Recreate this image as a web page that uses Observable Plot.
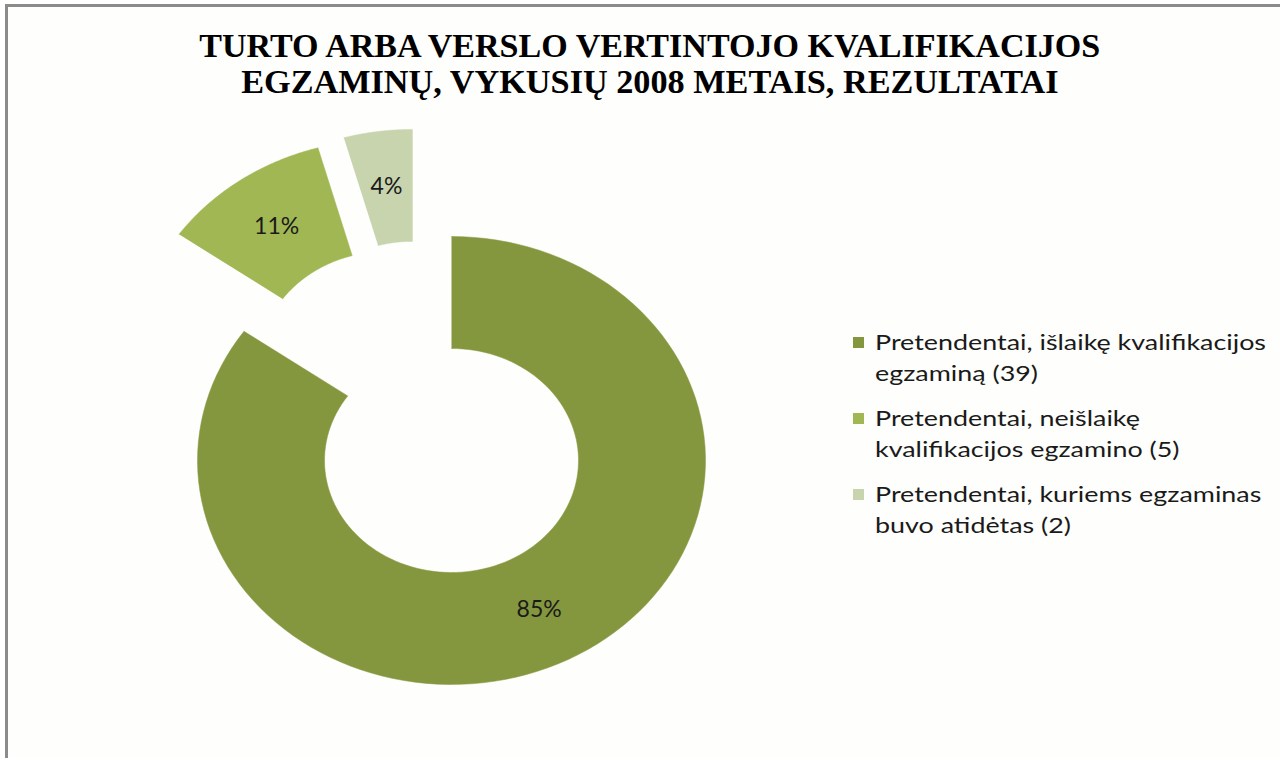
<!DOCTYPE html>
<html>
<head>
<meta charset="utf-8">
<script src="https://cdn.jsdelivr.net/npm/d3@7"></script>
<script src="https://cdn.jsdelivr.net/npm/@observablehq/plot@0.6"></script>
<style>
  html, body { margin: 0; padding: 0; background: #ffffff; width: 1280px; height: 758px; overflow: hidden; }
  #frame { position: absolute; left: 5px; top: 4px; width: 1320px; height: 820px;
           border-left: 3px solid #8b8b8b; border-top: 3px solid #8b8b8b; background: #fefefc; }
  #chart { position: absolute; left: 0; top: 0; }
  .tline { position: absolute; left: 0; width: 1300px; text-align: center; white-space: nowrap;
           font-family: "Liberation Serif", "Times New Roman", serif; font-weight: bold;
           font-size: 34px; line-height: 34px; color: #000; }
  .tline span { display: inline-block; transform-origin: 50% 50%; }
  #legend { position: absolute; left: 853px; top: 0; font-family: Lato, "Open Sans", sans-serif;
            font-size: 22px; line-height: 30.5px; color: #1a1a1a; }
  .item { position: absolute; left: 0; white-space: nowrap; }
  .sw { position: absolute; left: 0; width: 11px; height: 11px; }
  .txt { position: absolute; left: 22px; transform-origin: 0 0; }
</style>
</head>
<body>
<div id="frame"></div>
<div id="chart"></div>
<div id="t1" class="tline" style="top:29px"><span></span></div>
<div id="t2" class="tline" style="top:65px"><span></span></div>
<div id="legend"></div>
<script>
// ---- data ----
const titleLines = [
  "TURTO ARBA VERSLO VERTINTOJO KVALIFIKACIJOS",
  "EGZAMINŲ, VYKUSIŲ 2008 METAIS, REZULTATAI"
];
const categories = [
  "Pretendentai, išlaikę kvalifikacijos\negzaminą (39)",
  "Pretendentai, neišlaikę\nkvalifikacijos egzamino (5)",
  "Pretendentai, kuriems egzaminas\nbuvo atidėtas (2)"
];
const counts = [39, 5, 2];

// ---- styles / layout ----
const colors = ["#84973f", "#a1b754", "#c7d4ad"];
// exploded offsets of each slice (units of the outer radius)
const explode = [[0, 0], [-0.256, 0.433], [-0.154, 0.478]];
const innerRatio = 0.5;

const total = d3.sum(counts);
let acc = 0;
const slices = counts.map((c, i) => {
  const a0 = acc / total * 2 * Math.PI;
  acc += c;
  const a1 = acc / total * 2 * Math.PI;
  const [ox, oy] = explode[i];
  const pts = [];
  const N = 120;
  for (let k = 0; k <= N; k++) {
    const a = a0 + (a1 - a0) * k / N;
    pts.push({x: ox + Math.sin(a), y: oy + Math.cos(a)});
  }
  for (let k = N; k >= 0; k--) {
    const a = a0 + (a1 - a0) * k / N;
    pts.push({x: ox + innerRatio * Math.sin(a), y: oy + innerRatio * Math.cos(a)});
  }
  const am = (a0 + a1) / 2, rm = (1 + innerRatio) / 2;
  return {
    pts, color: colors[i],
    label: {x: ox + rm * Math.sin(am), y: oy + rm * Math.cos(am), text: Math.round(c / total * 100) + "%"}
  };
});

const W = 1280, H = 758, cx = 451, cy = 460, rx = 254, ry = 224;
const plot = Plot.plot({
  width: W, height: H, margin: 0,
  x: {domain: [-cx / rx, (W - cx) / rx], axis: null},
  y: {domain: [-(H - cy) / ry, cy / ry], axis: null},
  style: {background: "transparent", overflow: "visible"},
  marks: [
    ...slices.map(s => Plot.line(s.pts, {x: "x", y: "y", fill: s.color, stroke: s.color, strokeWidth: 0.5, curve: "linear"})),
    Plot.text(slices.map(s => s.label), {x: "x", y: "y", text: "text", fontSize: 23,
      fontFamily: "Lato, 'Open Sans', sans-serif", fill: "#1a1a1a"})
  ]
});
document.getElementById("chart").appendChild(plot);

// ---- title ----
const cvs = document.createElement("canvas").getContext("2d");
function fitSpan(el, text, font, target) {
  el.textContent = text;
  cvs.font = font;
  const w = cvs.measureText(text).width;
  el.style.transform = `scaleX(${target / w})`;
}
const tFont = "bold 34px 'Liberation Serif'";
fitSpan(document.querySelector("#t1 span"), titleLines[0], tFont, 906);
fitSpan(document.querySelector("#t2 span"), titleLines[1], tFont, 818);

// ---- legend ----
const legend = document.getElementById("legend");
const itemTops = [327, 403, 479];
cvs.font = "22px Lato";
const legendScale = 391 / cvs.measureText(categories[0].split("\n")[0]).width;
categories.forEach((cat, i) => {
  const item = document.createElement("div");
  item.className = "item";
  item.style.top = itemTops[i] + "px";
  const sw = document.createElement("div");
  sw.className = "sw";
  sw.style.background = colors[i];
  sw.style.top = "10px";
  const txt = document.createElement("div");
  txt.className = "txt";
  txt.style.transform = `scaleX(${legendScale})`;
  txt.innerHTML = cat.split("\n").join("<br>");
  item.appendChild(sw);
  item.appendChild(txt);
  legend.appendChild(item);
});
</script>
</body>
</html>
